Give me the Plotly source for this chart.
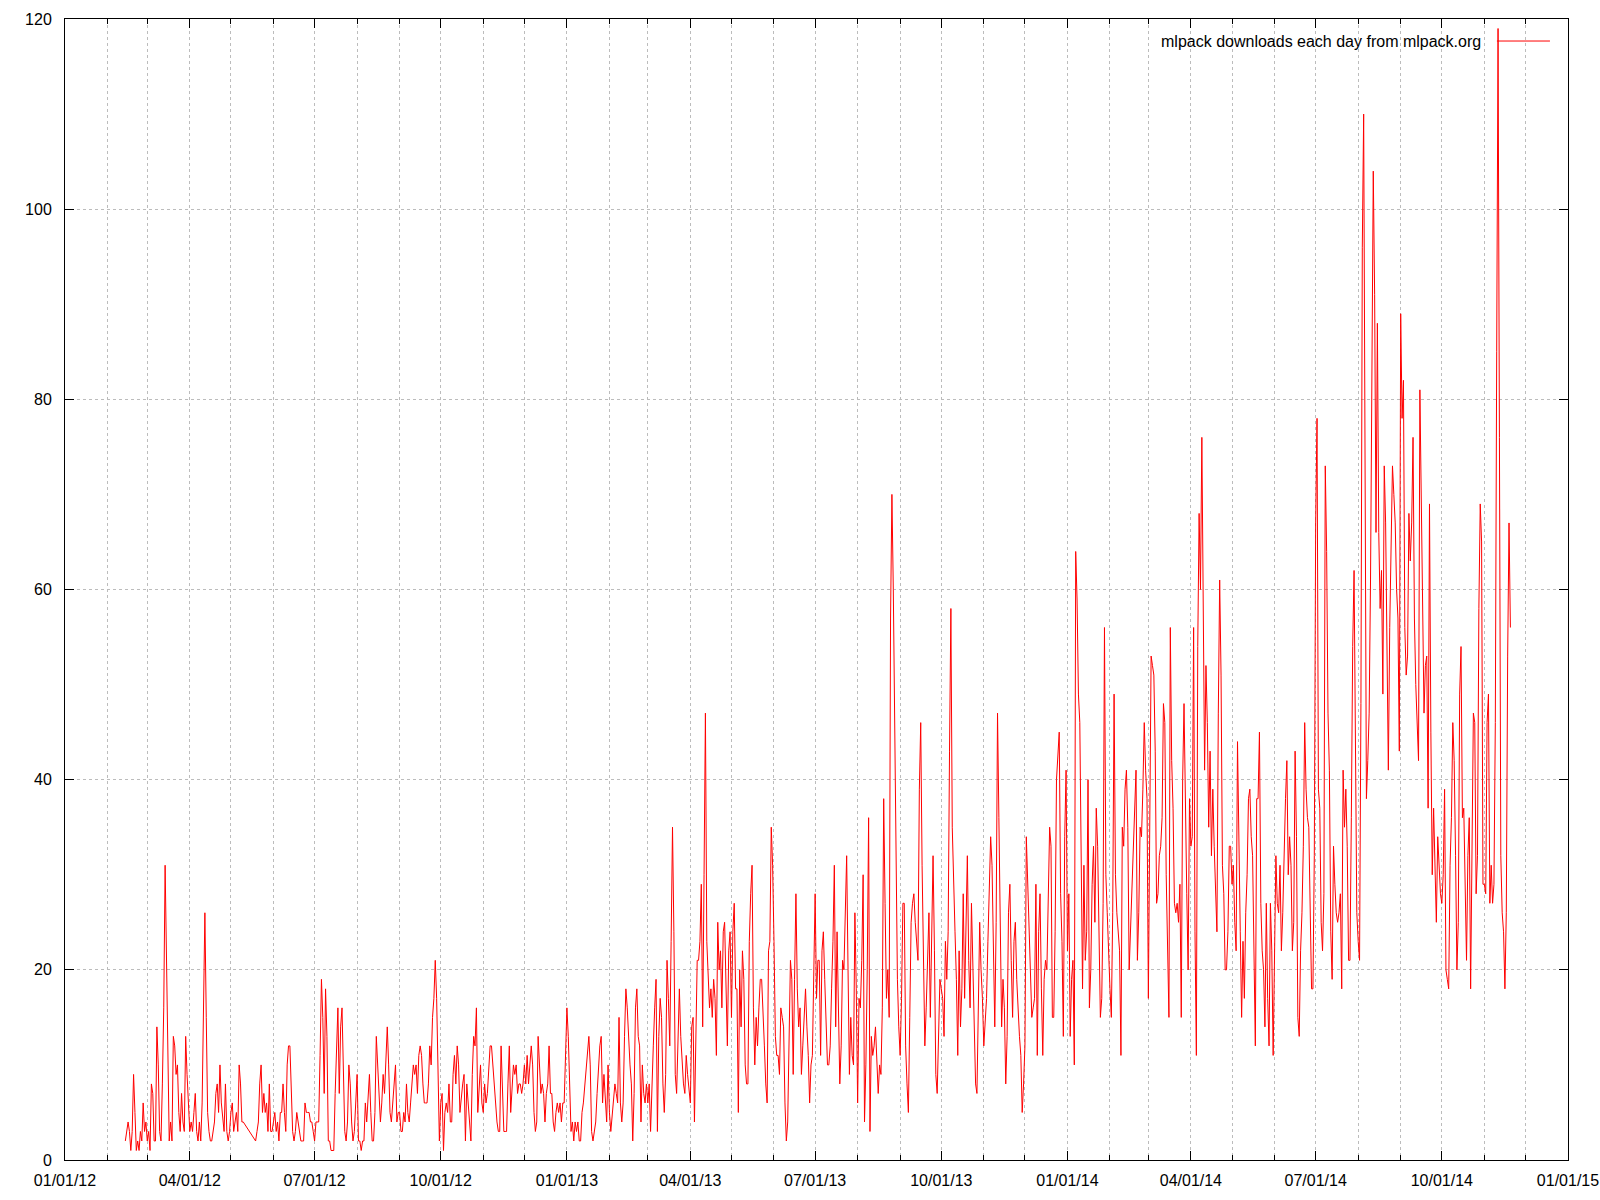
import pandas as pd
import plotly.graph_objects as go


# daily downloads read off the original gnuplot png
# first stretch, before the ~10 missing days in May 2012
start_early = '2012-02-14'
downloads_early = [2, 3, 4, 3, 1, 3, 9, 5, 1, 2, 1, 3, 2, 6, 3, 4, 2, 3, 1, 8,
                   7, 2, 2, 14, 10, 3, 2, 8, 16, 31, 22, 10, 2, 4, 2, 13, 12, 9, 10, 5,
                   3, 7, 4, 3, 13, 9, 5, 3, 4, 3, 5, 7, 3, 2, 4, 2, 6, 17, 26, 15,
                   5, 3, 2, 2, 3, 4, 7, 8, 5, 10, 6, 4, 3, 8, 3, 2, 3, 5, 6, 3,
                   4, 5, 3, 10, 8, 4, 4]

# continuous from here on
start_rest = '2012-05-19'
downloads_2012 = [2, 3, 4, 8, 10, 5, 7, 5, 6, 3, 8, 3, 3, 4, 5, 3, 4, 2, 5,
                  5, 8, 5, 3, 10, 12, 12, 6, 3, 2, 3, 5, 4, 3, 2, 2, 2, 6, 5, 5,
                  5, 4, 4, 3, 2, 4, 4, 4, 11, 19, 15, 7, 18, 13, 2, 2, 1, 1, 1, 7,
                  12, 16, 7, 14, 16, 9, 3, 2, 4, 10, 8, 4, 2, 3, 7, 9, 2, 2, 1, 2,
                  2, 6, 4, 6, 9, 5, 2, 2, 5, 13, 10, 7, 4, 6, 9, 7, 11, 14, 10, 5,
                  4, 6, 9, 10, 4, 5, 5, 3, 3, 5, 4, 8, 5, 4, 6, 8, 10, 9, 10, 7,
                  11, 12, 11, 8, 6, 6, 6, 8, 12, 10, 15, 17, 21, 17, 7, 2, 6, 7, 1, 5,
                  6, 5, 8,
                  4, 4, 9, 11, 8, 12, 10, 5, 7, 8, 9, 2, 8, 6, 4, 2, 9, 13, 12, 16,
                  5, 8, 10, 6, 5, 8, 6, 7, 9, 12, 12, 10, 7, 5, 4, 3, 3, 12, 8, 3,
                  3, 3, 8, 12, 5, 7, 10, 9, 10, 7, 8, 8, 7, 8, 10, 8, 11, 8, 10, 12,
                  10, 5, 3, 4,
                  13, 10, 7, 8, 7, 4, 7, 8, 12, 7, 7, 4, 3, 5, 6, 5, 6, 4, 6, 6, 10]

downloads_2013 = [16, 13, 9, 3, 4, 2, 4, 3, 4, 2, 2, 5, 6, 8, 9, 12, 13, 10, 3, 2,
                  3, 4, 7, 10, 12, 13, 6, 9, 7, 4, 10, 5, 3, 5, 7, 8, 7, 6, 15,
                  6, 4, 6, 13, 18, 16, 12, 10, 8, 2, 7, 16, 18, 13, 12, 4, 10, 7, 6, 8,
                  6, 8, 3, 9, 12, 16, 19, 3, 13, 17, 15, 8, 5, 9,
                  21, 17, 12, 23, 35, 24, 9, 7, 13, 18, 13, 10, 8, 7, 11, 9, 7, 6, 14, 15,
                  4, 13, 21, 21, 23, 29, 14, 30, 47, 23,
                  19, 16, 18, 15, 19, 17, 11, 25, 20, 22, 16, 24, 25, 17, 12, 22, 24, 15, 24, 27,
                  18, 18, 5, 20, 14, 22, 19, 10, 8, 8, 23, 28, 31, 16, 10, 15, 12, 16, 19, 19,
                  16, 12, 8, 6, 22, 23, 35, 31, 23, 13, 11, 11, 9, 16, 15, 14, 6, 2, 4, 13, 21,
                  19, 9, 19, 28, 18, 14, 16, 9, 12, 16, 18, 14, 11, 6, 10, 11, 19, 28, 17, 21,
                  21, 11, 22, 24, 19, 14, 10, 10, 12, 18, 23, 31, 14, 24, 17, 8, 12, 21, 20, 28,
                  32, 20, 9, 15, 11, 10, 26, 18, 6, 17, 16, 21, 30, 4, 10, 20, 36, 3, 13, 11,
                  12, 14, 10, 7, 10, 9, 16, 38, 27, 17, 20, 15, 57, 70, 60, 45, 27, 19, 14, 11,
                  17, 27, 27, 12, 8, 5, 15, 25, 27, 28, 25, 23, 21, 39, 46, 31, 19, 12, 16, 21,
                  26, 15, 24, 32, 22, 9, 7, 13, 19, 18, 17, 13, 23, 19, 24, 43, 58, 35, 28, 24,
                  19, 11, 22,
                  14, 18, 28, 17, 26, 32, 21, 16, 27, 21, 15, 8, 7, 16, 25, 20, 17, 12, 14, 17,
                  23, 30, 34, 31, 22, 14, 25, 47, 36, 21, 14, 19, 16, 8, 13, 26, 29, 21, 15, 23,
                  25, 19, 15, 13, 11, 5, 8, 12, 34, 29, 26, 20, 15, 16, 17, 29, 11, 24, 28, 18,
                  11, 19, 21, 20, 26, 35, 33, 15, 15, 24, 40, 42, 45, 28, 23, 13, 34, 41]

downloads_2014 = [22, 28, 13, 19, 21, 10, 64, 59, 49, 46, 31, 18, 31, 21, 24, 40, 16, 20, 29, 33,
                  25, 37, 33, 22, 15, 17, 27, 56, 30, 26, 21, 18, 15, 26, 49, 30, 26, 24, 22, 11,
                  35, 33, 39, 41, 35, 20,
                  24, 28, 31, 36, 41, 21, 26, 35, 34, 39, 46, 41, 38, 17, 38, 53, 52, 51, 43, 27,
                  28, 32, 33, 36, 48, 46, 30, 21, 15, 56, 42, 37, 27, 26, 27, 25, 29, 15, 40, 48,
                  35, 28, 20, 38, 33, 34, 56, 24, 11, 54, 68, 60, 76, 61, 41, 52, 46, 35, 43, 32,
                  39, 33, 28, 24, 47, 61, 51, 31, 28, 20, 20, 24, 33, 33, 29, 31, 25, 22, 44, 32,
                  24, 15, 23, 17, 26, 30, 38, 39, 34, 32, 22, 12, 38, 38, 45, 27, 22, 20, 14, 27,
                  17, 12, 27, 22, 11, 22, 32, 27, 26, 31, 22, 26, 34, 38, 42, 30, 34, 31, 22, 25,
                  43, 34, 15, 13,
                  22, 26, 33, 46, 39, 36, 35, 26, 18, 18, 32, 67, 78, 39, 37, 25, 22, 28, 73, 64,
                  47, 41, 24, 19, 33, 29, 26, 25, 26, 28, 18, 41, 35, 39, 33, 21, 21, 36, 54, 62,
                  41, 26, 23, 21, 48, 96, 110, 77, 38, 42, 47, 61, 87, 104, 91, 66, 88, 66, 58, 62,
                  49, 73, 67, 51, 41, 56, 65, 73, 70, 67, 60, 57, 43, 89, 78, 82, 56, 51, 53, 68,
                  63, 67, 76, 57, 50, 45, 42, 81, 70, 57, 47, 52, 53, 37, 69, 45, 30, 37, 32, 25,
                  34, 30, 28, 27, 30, 39, 20, 19, 18, 31, 36, 46, 42, 32, 20, 25, 49, 54, 36, 37,
                  29, 21, 32, 36, 18, 31, 47, 46, 28, 32, 58, 69, 65, 29, 29, 28, 46, 49, 27, 31,
                  27, 29, 46, 85, 119, 76, 32, 26, 24, 18, 26, 53, 67, 56]

series_name = 'mlpack downloads each day from mlpack.org'
x_range = ['2012-01-01', '2015-01-01']
y_ticks = [0, 20, 40, 60, 80, 100, 120]

FONT = 'Liberation Sans, Arial, sans-serif'
GRID = '#bcbcbc'


def build_series():
    rest = downloads_2012 + downloads_2013 + downloads_2014
    early_dates = pd.date_range(start_early, periods=len(downloads_early), freq='D')
    rest_dates = pd.date_range(start_rest, periods=len(rest), freq='D')
    return list(early_dates) + list(rest_dates), downloads_early + rest


def produce_figure(dates, values):
    fig = go.Figure()
    fig.add_trace(go.Scatter(x=dates, y=values, mode='lines', name=series_name,
                             line={'color': '#ff0000', 'width': 1}, showlegend=False))
    return fig


def customize_layout(fig):
    axis_common = {
        'showline': True, 'linecolor': 'black', 'linewidth': 1, 'mirror': 'allticks',
        'ticks': 'inside', 'ticklen': 9, 'tickcolor': 'black', 'tickwidth': 1,
        'showgrid': True, 'gridcolor': GRID, 'griddash': 'dot', 'gridwidth': 1,
        'zeroline': False, 'automargin': False, 'ticklabeloverflow': 'allow',
        'tickfont': {'family': FONT, 'size': 16, 'color': 'black'},
    }
    layout = {
        'width': 1600,
        'height': 1200,
        'paper_bgcolor': 'white',
        'plot_bgcolor': 'white',
        'margin': {'l': 65, 'r': 32, 't': 19, 'b': 40, 'autoexpand': False},
        'xaxis': dict(axis_common, type='date', range=x_range, tick0='2012-01-01', dtick='M3',
                      tickformat='%m/%d/%y', ticklabelstandoff=6,
                      minor={'dtick': 'M1', 'ticks': 'inside', 'ticklen': 5, 'tickcolor': 'black',
                             'showgrid': True, 'gridcolor': GRID, 'griddash': 'dot'}),
        'yaxis': dict(axis_common, range=[0, 120], tickvals=y_ticks, ticklabelstandoff=9),
        'showlegend': False,
        # gnuplot style key: text first, sample line to the right of it
        'annotations': [go.layout.Annotation(text=series_name, xref='paper', yref='paper',
                                             x=0.9435, y=0.9807, xanchor='right', yanchor='middle',
                                             showarrow=False,
                                             font={'family': FONT, 'size': 16, 'color': 'black'})],
        'shapes': [go.layout.Shape(type='line', xref='paper', yref='paper',
                                   x0=0.9527, x1=0.988, y0=0.9807, y1=0.9807,
                                   line={'color': '#ff0000', 'width': 1})],
    }
    fig.update_layout(layout)
    return fig


dates, values = build_series()
fig = produce_figure(dates, values)
fig = customize_layout(fig)
# drop the default page margin so the 1600x1200 figure fills the window exactly
fig.write_html('out.html', config={'displayModeBar': False},
               post_script="document.body.style.margin='0';document.body.style.overflow='hidden';")
